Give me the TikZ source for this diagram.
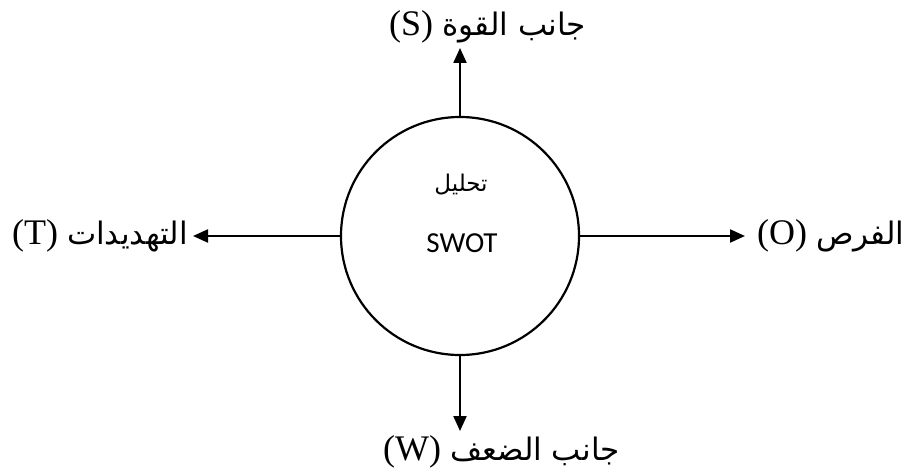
\documentclass[tikz,border=0pt]{standalone}
\usepackage{fontspec}
\usetikzlibrary{arrows.meta}
\TeXXeTstate=1
\setmainfont{Liberation Serif}
\newfontfamily\arabicfont[Script=Arabic]{DejaVu Sans}
\newfontfamily\calfont{Carlito}
\newcommand\artext[1]{{\arabicfont\fontsize{31}{36}\selectfont\beginR #1\endR}}
\begin{document}
\begin{tikzpicture}[x=1pt,y=-1pt,
  link/.style={line width=2.2pt,-{Triangle[length=15pt,width=13pt]}},
  label/.style={inner sep=0pt,font=\fontsize{36}{40}\selectfont},
  core/.style={circle,draw,line width=2.2pt,minimum size=238pt,inner sep=0pt}]
  \useasboundingbox (0,0) rectangle (915,473);
  % central circle
  \node[core] (c) at (460,236) {};
  \node[inner sep=0pt,font=\fontsize{23}{26}\selectfont] (ct) at (461,185) {\arabicfont\beginR تحليل\endR};
  \node[inner sep=0pt,font=\calfont\fontsize{29}{32}\selectfont] (cs) at (462,243) {SWOT};
  % arrow tips
  \coordinate (sT) at (460,48);
  \coordinate (wT) at (460,431);
  \coordinate (tT) at (193,236);
  \coordinate (oT) at (745,236);
  \draw[link] (c.north) -- (sT);
  \draw[link] (c.south) -- (wT);
  \draw[link] (c.west) -- (tT);
  \draw[link] (c.east) -- (oT);
  % labels
  \node[label,anchor=west] (s) at (389,27) {(S)~\artext{جانب القوة}};
  \node[label,anchor=west] (w) at (383,452) {(W)~\artext{جانب الضعف}};
  \node[label,anchor=east] (t) at (188,236) {(T)~\artext{التهديدات}};
  \node[label,anchor=west] (o) at (757,236) {(O)~\artext{الفرص}};
\end{tikzpicture}
\end{document}
